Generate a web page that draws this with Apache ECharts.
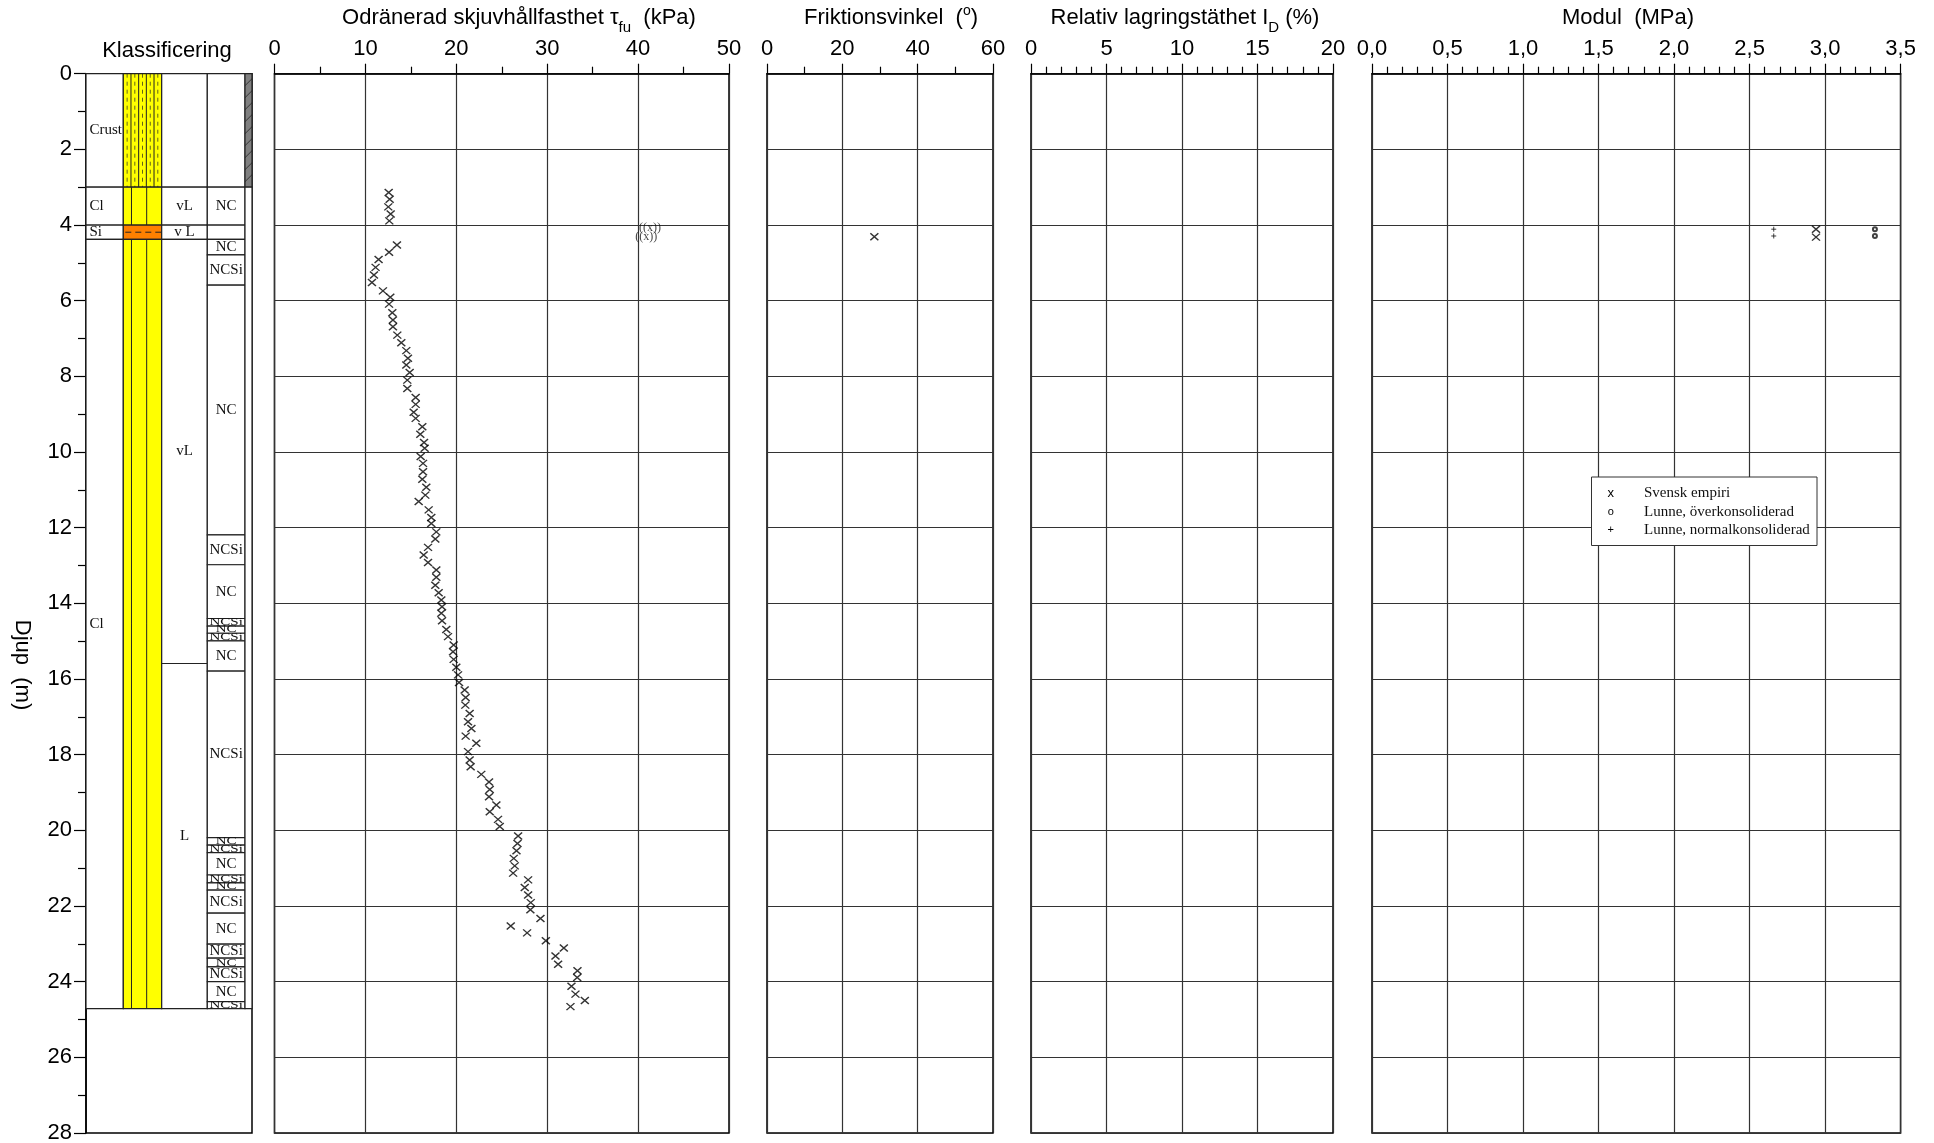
<!DOCTYPE html>
<html>
<head>
<meta charset="utf-8">
<title>Djup-profil</title>
<script src="https://cdn.jsdelivr.net/npm/echarts@6/dist/echarts.min.js"></script>
<style>
  html, body { margin: 0; padding: 0; background: #fff; }
  #chart { width: 1934px; height: 1143px; }
</style>
</head>
<body>
<div id="chart"></div>
<script>
// --- klassificering (top, bottom, text) in m ---
var soilType = [[0, 3, 'Crust'], [3, 4, 'Cl'], [4, 4.38, 'Si'], [4.38, 24.71, 'Cl']];
var materialLayers = [[0, 3, 'crust'], [3, 4, 'clay'], [4, 4.38, 'silt'], [4.38, 24.71, 'clay']];
var consistency = [[0, 3, ''], [3, 4, 'vL'], [4, 4.38, 'v L'], [4.38, 15.59, 'vL'], [15.59, 24.71, 'L']];
var consolidation = [
  [0, 3, ''], [3, 4, 'NC'], [4, 4.38, ''], [4.38, 4.79, 'NC'], [4.79, 5.59, 'NCSi'],
  [5.59, 12.19, 'NC'], [12.19, 12.98, 'NCSi'], [12.98, 14.40, 'NC'], [14.40, 14.60, 'NCSi'],
  [14.60, 14.79, 'NC'], [14.79, 14.99, 'NCSi'], [14.99, 15.79, 'NC'], [15.79, 20.19, 'NCSi'],
  [20.19, 20.39, 'NC'], [20.39, 20.59, 'NCSi'], [20.59, 21.18, 'NC'], [21.18, 21.39, 'NCSi'],
  [21.39, 21.58, 'NC'], [21.58, 22.19, 'NCSi'], [22.19, 23.01, 'NC'], [23.01, 23.38, 'NCSi'],
  [23.38, 23.61, 'NC'], [23.61, 24.0, 'NCSi'], [24.0, 24.53, 'NC'], [24.53, 24.71, 'NCSi']
];
var stripLayers = [[0, 3, 'hatch'], [3, 24.71, '']];

// --- odränerad skjuvhållfasthet ---
var tauDepth = [3.14, 3.32, 3.52, 3.71, 3.89, 4.53, 4.72, 4.91, 5.12, 5.32, 5.52, 5.74, 5.91, 6.09, 6.32, 6.51, 6.69, 6.91, 7.11, 7.32,
  7.52, 7.70, 7.90, 8.10, 8.32, 8.56, 8.74, 8.95, 9.11, 9.33, 9.53, 9.75, 9.90, 10.12, 10.30, 10.52, 10.72, 10.93, 11.14, 11.31,
  11.53, 11.73, 11.89, 12.11, 12.30, 12.52, 12.72, 12.92, 13.12, 13.31, 13.52, 13.72, 13.91, 14.09, 14.26, 14.46, 14.69, 14.88, 15.10, 15.28,
  15.48, 15.69, 15.89, 16.09, 16.29, 16.49, 16.69, 16.91, 17.13, 17.31, 17.51, 17.70, 17.92, 18.14, 18.32, 18.52, 18.72, 18.92, 19.11, 19.33,
  19.51, 19.71, 19.90, 20.15, 20.35, 20.54, 20.74, 20.94, 21.13, 21.31, 21.51, 21.71, 21.91, 22.10, 22.33, 22.53, 22.71, 22.92, 23.11, 23.32,
  23.54, 23.71, 23.89, 24.12, 24.33, 24.50, 24.66];
var tauValue = [12.56, 12.67, 12.52, 12.78, 12.63, 13.47, 12.60, 11.45, 11.12, 10.94, 10.72, 11.93, 12.74, 12.60, 12.96, 13.03, 13.03, 13.51, 13.95, 14.50,
  14.68, 14.50, 14.87, 14.61, 14.61, 15.53, 15.53, 15.31, 15.53, 16.26, 16.04, 16.45, 16.52, 16.08, 16.34, 16.34, 16.26, 16.70, 16.59, 15.86,
  16.96, 17.25, 17.25, 17.80, 17.69, 16.89, 16.41, 16.89, 17.80, 17.80, 17.69, 18.06, 18.35, 18.43, 18.35, 18.43, 18.90, 19.09, 19.71, 19.64,
  19.71, 20.00, 20.19, 20.30, 20.92, 21.03, 20.99, 21.47, 21.29, 21.66, 21.03, 22.20, 21.29, 21.47, 21.58, 22.75, 23.60, 23.68, 23.60, 24.41,
  23.68, 24.59, 24.78, 26.80, 26.73, 26.62, 26.32, 26.43, 26.25, 27.90, 27.53, 27.90, 28.19, 28.15, 29.26, 25.99, 27.79, 29.85, 31.83, 30.91,
  31.20, 33.33, 33.30, 32.67, 33.11, 34.14, 32.56];
var tauExclDepth = [4.08, 4.31];
var tauExclValue = [41.3, 40.9];

// --- friktionsvinkel ---
var phiDepth = [4.31];
var phiValue = [28.5];

// --- modul ---
var modSvenskDepth = [4.11, 4.32];
var modSvensk = [2.94, 2.94];
var modOverDepth = [4.11, 4.29];
var modOver = [3.33, 3.33];
var modNormalDepth = [4.11, 4.29];
var modNormal = [2.66, 2.66];

var legendNames = ['Svensk empiri', 'Lunne, överkonsoliderad', 'Lunne, normalkonsoliderad'];
var legendMarks = ['x', 'o', '+'];

// layout
var gridTop = 73.7, gridHeight = 1059.3;
var panelLeft = [86, 274.5, 767, 1031, 1372];
var panelWidth = [166, 454.5, 226, 302, 528.6];
var colX = {
  soil: [0, 0.2247], material: [0.2247, 0.456], consistency: [0.456, 0.7307],
  consolidation: [0.7307, 0.9578], strip: [0.9578, 1]
};
var sans = 'Liberation Sans', serif = 'Liberation Serif';
var crossPath = 'path://M0,0L10,10M10,0L0,10';
var plusPath = 'path://M5,0L5,10M0,5L10,5';

var chart = echarts.init(document.getElementById('chart'));

function pairs(xs, ys) {
  return xs.map(function (v, i) { return [v, ys[i]]; });
}
function layerData(layers) {
  return layers.map(function (l) { return [0.5, l[0], l[1]]; });
}

function cellBox(api, col) {
  var p0 = api.coord([colX[col][0], api.value(1)]);
  var p1 = api.coord([colX[col][1], api.value(2)]);
  return { x0: p0[0], y0: p0[1], x1: p1[0], y1: p1[1] };
}

function textColumn(layers, col, align) {
  return function (params, api) {
    var b = cellBox(api, col);
    var h = b.y1 - b.y0;
    var kids = [{
      type: 'rect', shape: { x: b.x0, y: b.y0, width: b.x1 - b.x0, height: h },
      style: { fill: '#fff', stroke: '#222', lineWidth: 1.2 }
    }];
    var txt = layers[params.dataIndex][2];
    if (txt) {
      kids.push({
        type: 'text',
        x: align === 'left' ? b.x0 + 3.5 : (b.x0 + b.x1) / 2,
        y: (b.y0 + b.y1) / 2,
        scaleY: Math.min(1, (h + 2.5) / 15),
        style: { text: txt, align: align, verticalAlign: 'middle', fontFamily: serif, fontSize: 15, fill: '#111' }
      });
    }
    return { type: 'group', children: kids };
  };
}

function materialItem(params, api) {
  var kind = materialLayers[params.dataIndex][2];
  var b = cellBox(api, 'material');
  var w = b.x1 - b.x0;
  var kids = [{
    type: 'rect', shape: { x: b.x0, y: b.y0, width: w, height: b.y1 - b.y0 },
    style: { fill: kind === 'silt' ? '#FF8000' : '#FFFF00', stroke: '#222', lineWidth: 1.2 }
  }];
  if (kind === 'crust') {
    for (var i = 1; i < 10; i++) {
      var x = b.x0 + w * i / 10;
      kids.push({ type: 'line', shape: { x1: x, y1: b.y0, x2: x, y2: b.y1 },
        style: { stroke: '#222', lineWidth: i % 2 ? 0.7 : 1, lineDash: i % 2 ? [4, 4] : null } });
    }
  } else if (kind === 'clay') {
    [0.213, 0.609].forEach(function (f) {
      var x = b.x0 + w * f;
      kids.push({ type: 'line', shape: { x1: x, y1: b.y0, x2: x, y2: b.y1 }, style: { stroke: '#222', lineWidth: 1 } });
    });
  } else if (kind === 'silt') {
    var ym = (b.y0 + b.y1) / 2;
    kids.push({ type: 'line', shape: { x1: b.x0 + 2, y1: ym, x2: b.x1, y2: ym }, style: { stroke: '#222', lineWidth: 1, lineDash: [6, 4] } });
  }
  return { type: 'group', children: kids };
}

function stripItem(params, api) {
  var kind = stripLayers[params.dataIndex][2];
  var b = cellBox(api, 'strip');
  var kids = [{
    type: 'rect', shape: { x: b.x0, y: b.y0, width: b.x1 - b.x0, height: b.y1 - b.y0 },
    style: { fill: kind === 'hatch' ? '#808080' : '#fff', stroke: '#222', lineWidth: 1.2 }
  }];
  if (kind === 'hatch') {
    for (var y = b.y0 + 12; y < b.y1; y += 12) {
      kids.push({ type: 'line', shape: { x1: b.x0, y1: y, x2: b.x1, y2: y - 7 }, style: { stroke: '#222', lineWidth: 0.8 } });
    }
  }
  return { type: 'group', children: kids };
}

function topAxis(i, max, interval, minorSplit, formatter) {
  return {
    type: 'value', gridIndex: i, position: 'top', min: 0, max: max, interval: interval,
    axisLine: { show: true, lineStyle: { color: '#000', width: 1.5 } },
    axisTick: { show: true, length: 10, lineStyle: { color: '#000', width: 1.2 } },
    minorTick: { show: true, splitNumber: minorSplit, length: 7, lineStyle: { color: '#000', width: 1.2 } },
    axisLabel: { margin: 14, fontSize: 22, color: '#000', fontFamily: sans, formatter: formatter },
    splitLine: { show: true, lineStyle: { color: '#333', width: 1.2 } }
  };
}

function depthAxis(i) {
  var vis = i === 0;
  return {
    type: 'value', gridIndex: i, inverse: true, min: 0, max: 28, interval: 2,
    axisLine: { show: vis, lineStyle: { color: '#000', width: 1.5 } },
    axisTick: { show: vis, length: 12, lineStyle: { color: '#000', width: 1.2 } },
    minorTick: { show: vis, splitNumber: 2, length: 8, lineStyle: { color: '#000', width: 1.2 } },
    axisLabel: { show: vis, margin: 14, fontSize: 22, color: '#000', fontFamily: sans },
    splitLine: { show: !vis, lineStyle: { color: '#333', width: 1.2 } }
  };
}

function crossSeries(name, gi, data) {
  return {
    name: name, type: 'scatter', xAxisIndex: gi, yAxisIndex: gi,
    symbol: crossPath, symbolSize: [8, 7],
    itemStyle: { color: 'none', borderColor: '#000', borderWidth: 1.4 },
    data: data
  };
}

var titleRich = {
  m: { fontSize: 22, lineHeight: 36, fontFamily: sans, fill: '#000' },
  s: { fontSize: 15, lineHeight: 15, verticalAlign: 'bottom', fontFamily: sans, fill: '#000' }
};
var friRich = {
  m: { fontSize: 22, lineHeight: 26, fontFamily: sans, fill: '#000' },
  u: { fontSize: 14, lineHeight: 20, verticalAlign: 'top', fontFamily: sans, fill: '#000' }
};

function titleText(x, y, text, rich) {
  return { type: 'text', x: x, y: y, z: 50,
    style: { text: text, rich: rich, align: 'center', verticalAlign: 'middle', fill: '#000', fontFamily: sans, fontSize: 22 } };
}

var graphics = [
  titleText(167, 51, 'Klassificering', null),
  titleText(519, 17.5, '{m|Odränerad skjuvhållfasthet τ}{s|fu}{m|  (kPa)}', titleRich),
  titleText(891, 17.5, '{m|Friktionsvinkel  (}{u|o}{m|)}', friRich),
  titleText(1185, 17.5, '{m|Relativ lagringstäthet I}{s|D}{m| (%)}', titleRich),
  titleText(1628, 17.5, 'Modul  (MPa)', null),
  { type: 'text', x: 22, y: 665, rotation: -Math.PI / 2, z: 50,
    style: { text: 'Djup  (m)', align: 'center', verticalAlign: 'middle', fontFamily: sans, fontSize: 22, fill: '#000' } },
  { type: 'rect', z: 100, shape: { x: 1591.5, y: 477, width: 225.5, height: 68.5 },
    style: { fill: '#fff', stroke: '#333', lineWidth: 1 } }
];
legendNames.forEach(function (n, i) {
  var y = 493.3 + i * 18.4;
  graphics.push({ type: 'text', z: 101, x: 1610.7, y: y,
    style: { text: legendMarks[i], align: 'center', verticalAlign: 'middle', fontFamily: sans, fontSize: i === 0 ? 13 : 11, fill: '#000' } });
  graphics.push({ type: 'text', z: 101, x: 1644, y: y,
    style: { text: n, align: 'left', verticalAlign: 'middle', fontFamily: serif, fontSize: 15, fill: '#111' } });
});

var option = {
  animation: false,
  backgroundColor: '#fff',
  grid: panelLeft.map(function (l, i) {
    return { left: l, top: gridTop, width: panelWidth[i], height: gridHeight, show: true,
      borderColor: '#000', borderWidth: 1.5, backgroundColor: 'rgba(0,0,0,0)',
      containLabel: false, outerBoundsMode: 'none' };
  }),
  xAxis: [
    { type: 'value', gridIndex: 0, min: 0, max: 1, show: false },
    topAxis(1, 50, 10, 2),
    topAxis(2, 60, 20, 2),
    topAxis(3, 20, 5, 5),
    topAxis(4, 3.5, 0.5, 5, function (v) { return v.toFixed(1).replace('.', ','); })
  ],
  yAxis: [depthAxis(0), depthAxis(1), depthAxis(2), depthAxis(3), depthAxis(4)],
  graphic: graphics,
  series: [
    { type: 'custom', xAxisIndex: 0, yAxisIndex: 0, renderItem: textColumn(soilType, 'soil', 'left'), data: layerData(soilType) },
    { type: 'custom', xAxisIndex: 0, yAxisIndex: 0, renderItem: materialItem, data: layerData(materialLayers) },
    { type: 'custom', xAxisIndex: 0, yAxisIndex: 0, renderItem: textColumn(consistency, 'consistency', 'center'), data: layerData(consistency) },
    { type: 'custom', xAxisIndex: 0, yAxisIndex: 0, renderItem: textColumn(consolidation, 'consolidation', 'center'), data: layerData(consolidation) },
    { type: 'custom', xAxisIndex: 0, yAxisIndex: 0, renderItem: stripItem, data: layerData(stripLayers) },

    crossSeries('tau', 1, pairs(tauValue, tauDepth)),
    {
      name: 'tau (uteslutna)', type: 'scatter', xAxisIndex: 1, yAxisIndex: 1,
      symbolSize: 1, itemStyle: { color: 'rgba(0,0,0,0)' },
      label: { show: true, position: 'inside', formatter: '((x))', fontFamily: serif, fontSize: 12, color: '#111' },
      data: pairs(tauExclValue, tauExclDepth)
    },
    crossSeries('phi', 2, pairs(phiValue, phiDepth)),
    crossSeries(legendNames[0], 4, pairs(modSvensk, modSvenskDepth)),
    {
      name: legendNames[1], type: 'scatter', xAxisIndex: 4, yAxisIndex: 4,
      symbol: 'emptyCircle', symbolSize: 4,
      itemStyle: { color: '#111', borderWidth: 1 },
      data: pairs(modOver, modOverDepth)
    },
    {
      name: legendNames[2], type: 'scatter', xAxisIndex: 4, yAxisIndex: 4,
      symbol: plusPath, symbolSize: 5,
      itemStyle: { color: 'none', borderColor: '#111', borderWidth: 1 },
      data: pairs(modNormal, modNormalDepth)
    }
  ]
};

chart.setOption(option);
</script>
</body>
</html>
